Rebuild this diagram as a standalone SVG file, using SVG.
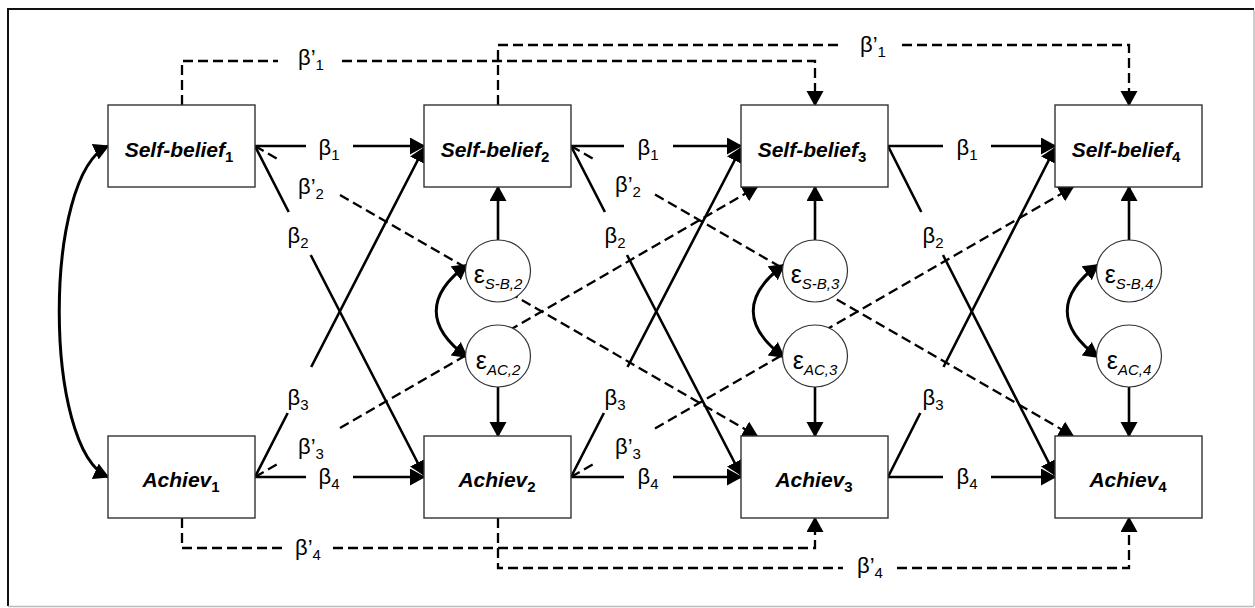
<svg xmlns="http://www.w3.org/2000/svg" width="1255" height="608" viewBox="0 0 1255 608">
<style>
.box{fill:#fff;stroke:#333;stroke-width:1.4}
.err{fill:#fff;stroke:#333;stroke-width:1.2}
.ln{fill:none;stroke:#000;stroke-width:2.6}
.dl{fill:none;stroke:#000;stroke-width:2.3;stroke-dasharray:10 5}
.cv{fill:none;stroke:#000;stroke-width:3}
.nt{font-family:"Liberation Sans",Arial,sans-serif;font-size:21px;font-weight:bold;font-style:italic;fill:#000}
.ns{font-size:15px;font-style:normal}
.lb{font-family:"Liberation Sans",Arial,sans-serif;font-size:22px;fill:#000}
.ls{font-size:15px}
.et{font-family:"Liberation Sans",Arial,sans-serif;font-size:25px;fill:#000}
.es{font-size:15px;font-style:italic}
</style>
<defs>
<marker id="ah" markerUnits="userSpaceOnUse" markerWidth="18" markerHeight="18" refX="14" refY="8.5" orient="auto-start-reverse"><path d="M0,0 L15.5,8.5 L0,17 z" fill="#000"/></marker>
</defs>
<rect x="0" y="0" width="1255" height="608" fill="#fff"/>
<g id="frame">
<line x1="8" y1="9" x2="1254" y2="9" stroke="#111" stroke-width="2"/>
<line x1="8" y1="8" x2="8" y2="606" stroke="#111" stroke-width="2"/>
<line x1="1254" y1="10" x2="1254" y2="606" stroke="#bbb" stroke-width="1.5"/>
<line x1="8" y1="606.5" x2="1254" y2="606.5" stroke="#bbb" stroke-width="1.5"/>
</g>
<g id="connectors">
<path class="ln" d="M255,146 H306 M353,146 H424" marker-end="url(#ah)"/>
<path class="ln" d="M571,146 H624 M673,146 H741" marker-end="url(#ah)"/>
<path class="ln" d="M888,146 H943 M991,146 H1055" marker-end="url(#ah)"/>
<path class="ln" d="M255,477 H306 M353,477 H424" marker-end="url(#ah)"/>
<path class="ln" d="M571,477 H624 M673,477 H741" marker-end="url(#ah)"/>
<path class="ln" d="M888,477 H943 M991,477 H1055" marker-end="url(#ah)"/>
<path class="ln" d="M255,146 L288.7,212 M310.7,255 L424,475" marker-end="url(#ah)"/>
<path class="ln" d="M571,146 L604.9,212 M627,255 L741,475" marker-end="url(#ah)"/>
<path class="ln" d="M888,146 L921.3,212 M943,255 L1055,475" marker-end="url(#ah)"/>
<path class="ln" d="M255,477 L287.7,413 M311.2,367 L424,148" marker-end="url(#ah)"/>
<path class="ln" d="M571,477 L603.9,413 M627.5,367 L741,148" marker-end="url(#ah)"/>
<path class="ln" d="M888,477 L920.3,413 M943.5,367 L1055,148" marker-end="url(#ah)"/>
<path class="dl" d="M255,146 L281,161 M340,195 L757,436" marker-end="url(#ah)"/>
<path class="dl" d="M571,146 L597,161 M655,194.5 L1073,436" marker-end="url(#ah)"/>
<path class="dl" d="M255,477 L281,462 M340,428 L757,187" marker-end="url(#ah)"/>
<path class="dl" d="M571,477 L597,462 M655,428.5 L1073,187" marker-end="url(#ah)"/>
<path class="dl" d="M182,105 V61 H278 M342,61 H815 V105" marker-end="url(#ah)"/>
<path class="dl" d="M498,105 V45 H840 M902,45 H1129 V105" marker-end="url(#ah)"/>
<path class="dl" d="M182,518 V548 H282 M333,548 H815 V518" marker-end="url(#ah)"/>
<path class="dl" d="M498,518 V568 H843 M897,568 H1129 V518" marker-end="url(#ah)"/>
<path class="ln" d="M498,240 V187" marker-end="url(#ah)"/>
<path class="ln" d="M815,240 V187" marker-end="url(#ah)"/>
<path class="ln" d="M1129,240 V187" marker-end="url(#ah)"/>
<path class="ln" d="M498,387 V436" marker-end="url(#ah)"/>
<path class="ln" d="M815,387 V436" marker-end="url(#ah)"/>
<path class="ln" d="M1129,387 V436" marker-end="url(#ah)"/>
<path class="cv" d="M108,146 C43,175 43,448 108,477" marker-start="url(#ah)" marker-end="url(#ah)"/>
<path class="cv" d="M467,265 C426,295 426,327 467,357" marker-start="url(#ah)" marker-end="url(#ah)"/>
<path class="cv" d="M784,265 C743,295 743,327 784,357" marker-start="url(#ah)" marker-end="url(#ah)"/>
<path class="cv" d="M1098,265 C1057,295 1057,327 1098,357" marker-start="url(#ah)" marker-end="url(#ah)"/>
</g>
<g id="labels">
<text class="lb" x="329" y="155" text-anchor="middle">β<tspan class="ls" dy="5">1</tspan></text>
<text class="lb" x="648" y="155" text-anchor="middle">β<tspan class="ls" dy="5">1</tspan></text>
<text class="lb" x="967" y="155" text-anchor="middle">β<tspan class="ls" dy="5">1</tspan></text>
<text class="lb" x="329" y="484" text-anchor="middle">β<tspan class="ls" dy="5">4</tspan></text>
<text class="lb" x="648" y="484" text-anchor="middle">β<tspan class="ls" dy="5">4</tspan></text>
<text class="lb" x="967" y="484" text-anchor="middle">β<tspan class="ls" dy="5">4</tspan></text>
<text class="lb" x="298" y="243" text-anchor="middle">β<tspan class="ls" dy="5">2</tspan></text>
<text class="lb" x="615" y="243" text-anchor="middle">β<tspan class="ls" dy="5">2</tspan></text>
<text class="lb" x="933" y="243" text-anchor="middle">β<tspan class="ls" dy="5">2</tspan></text>
<text class="lb" x="298" y="405" text-anchor="middle">β<tspan class="ls" dy="5">3</tspan></text>
<text class="lb" x="615" y="405" text-anchor="middle">β<tspan class="ls" dy="5">3</tspan></text>
<text class="lb" x="933" y="405" text-anchor="middle">β<tspan class="ls" dy="5">3</tspan></text>
<text class="lb" x="311" y="194" text-anchor="middle">β’<tspan class="ls" dy="5">2</tspan></text>
<text class="lb" x="628" y="192" text-anchor="middle">β’<tspan class="ls" dy="5">2</tspan></text>
<text class="lb" x="311" y="454" text-anchor="middle">β’<tspan class="ls" dy="5">3</tspan></text>
<text class="lb" x="628" y="454" text-anchor="middle">β’<tspan class="ls" dy="5">3</tspan></text>
<text class="lb" x="311" y="65" text-anchor="middle">β’<tspan class="ls" dy="5">1</tspan></text>
<text class="lb" x="873" y="52" text-anchor="middle">β’<tspan class="ls" dy="5">1</tspan></text>
<text class="lb" x="308" y="555" text-anchor="middle">β’<tspan class="ls" dy="5">4</tspan></text>
<text class="lb" x="870" y="573" text-anchor="middle">β’<tspan class="ls" dy="5">4</tspan></text>
</g>
<g id="sb1"><rect class="box" x="108" y="105" width="147" height="82"/><text class="nt" x="179" y="157" text-anchor="middle">Self-belief<tspan class="ns" dy="5">1</tspan></text></g>
<g id="sb2"><rect class="box" x="424" y="105" width="147" height="82"/><text class="nt" x="495" y="157" text-anchor="middle">Self-belief<tspan class="ns" dy="5">2</tspan></text></g>
<g id="sb3"><rect class="box" x="741" y="105" width="147" height="82"/><text class="nt" x="812" y="157" text-anchor="middle">Self-belief<tspan class="ns" dy="5">3</tspan></text></g>
<g id="sb4"><rect class="box" x="1055" y="105" width="147" height="82"/><text class="nt" x="1126" y="157" text-anchor="middle">Self-belief<tspan class="ns" dy="5">4</tspan></text></g>
<g id="ac1"><rect class="box" x="108" y="436" width="147" height="82"/><text class="nt" x="181" y="487" text-anchor="middle">Achiev<tspan class="ns" dy="5">1</tspan></text></g>
<g id="ac2"><rect class="box" x="424" y="436" width="147" height="82"/><text class="nt" x="497" y="487" text-anchor="middle">Achiev<tspan class="ns" dy="5">2</tspan></text></g>
<g id="ac3"><rect class="box" x="741" y="436" width="147" height="82"/><text class="nt" x="814" y="487" text-anchor="middle">Achiev<tspan class="ns" dy="5">3</tspan></text></g>
<g id="ac4"><rect class="box" x="1055" y="436" width="147" height="82"/><text class="nt" x="1128" y="487" text-anchor="middle">Achiev<tspan class="ns" dy="5">4</tspan></text></g>
<g id="esb2"><ellipse class="err" cx="498" cy="271" rx="32.5" ry="31"/><text class="et" x="498" y="283" text-anchor="middle">ε<tspan class="es" dy="6">S-B,2</tspan></text></g>
<g id="esb3"><ellipse class="err" cx="815" cy="271" rx="32.5" ry="31"/><text class="et" x="815" y="283" text-anchor="middle">ε<tspan class="es" dy="6">S-B,3</tspan></text></g>
<g id="esb4"><ellipse class="err" cx="1129" cy="271" rx="32.5" ry="31"/><text class="et" x="1129" y="283" text-anchor="middle">ε<tspan class="es" dy="6">S-B,4</tspan></text></g>
<g id="eac2"><ellipse class="err" cx="498" cy="356" rx="32.5" ry="31"/><text class="et" x="498" y="369" text-anchor="middle">ε<tspan class="es" dy="6">AC,2</tspan></text></g>
<g id="eac3"><ellipse class="err" cx="815" cy="356" rx="32.5" ry="31"/><text class="et" x="815" y="369" text-anchor="middle">ε<tspan class="es" dy="6">AC,3</tspan></text></g>
<g id="eac4"><ellipse class="err" cx="1129" cy="356" rx="32.5" ry="31"/><text class="et" x="1129" y="369" text-anchor="middle">ε<tspan class="es" dy="6">AC,4</tspan></text></g>
</svg>
